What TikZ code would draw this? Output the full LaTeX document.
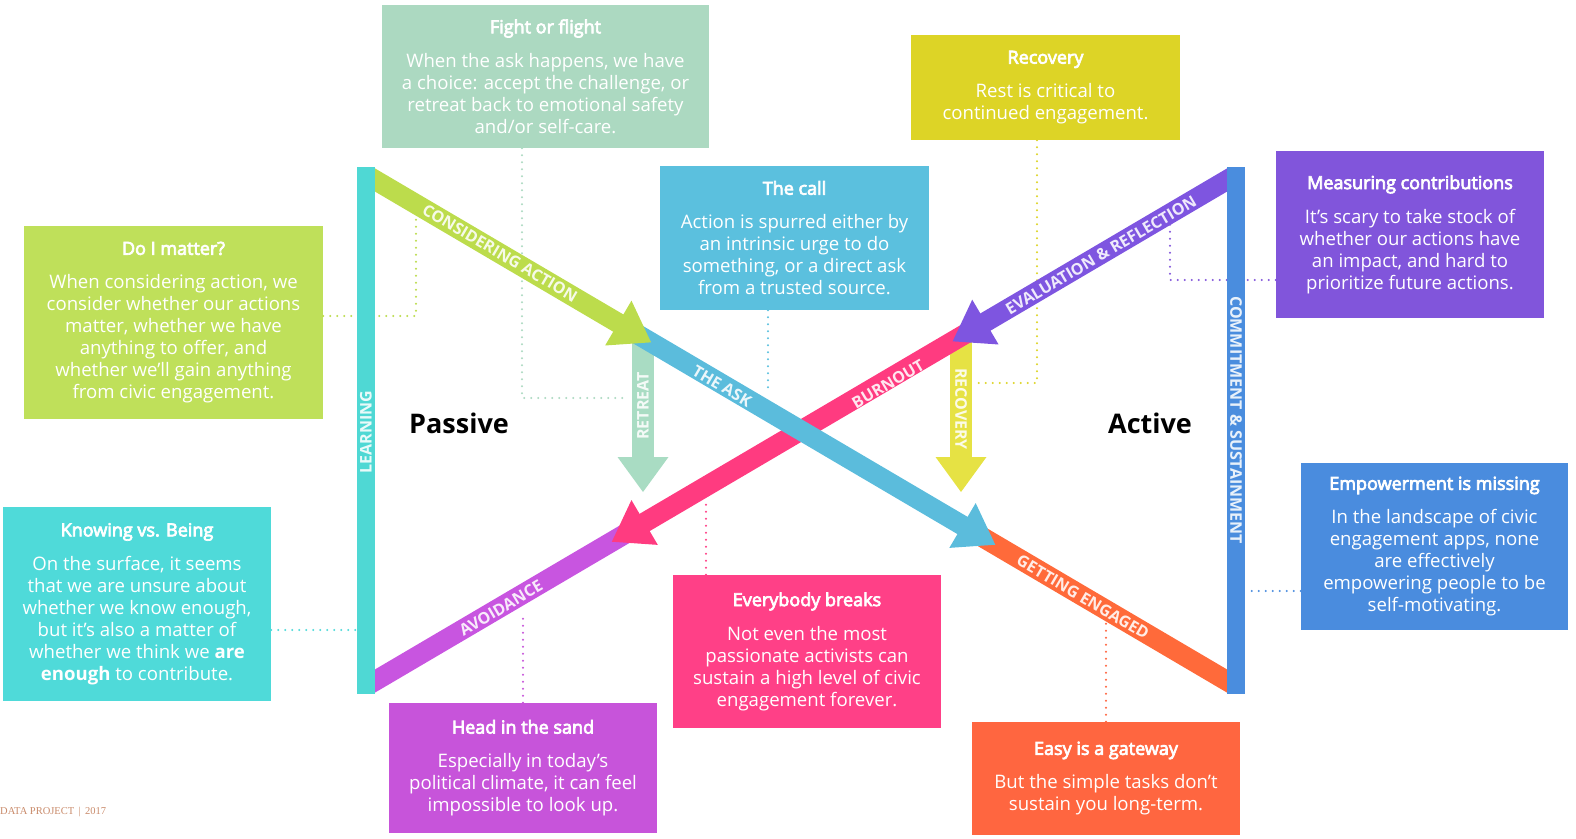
\documentclass[tikz,border=0pt]{standalone}
\usepackage{fontspec}
\setmainfont{Open Sans}
\newfontfamily\semib{Open Sans}[FakeBold=4]
\newfontfamily\footfont{Liberation Serif}
\usetikzlibrary{calc}
\definecolor{cfight}{HTML}{ACD9C1}
\definecolor{crecov}{HTML}{DDD426}
\definecolor{ccall}{HTML}{5BC0DE}
\definecolor{cmeas}{HTML}{8155DB}
\definecolor{cdoim}{HTML}{BFE05A}
\definecolor{cknow}{HTML}{4FDAD9}
\definecolor{chead}{HTML}{C754DA}
\definecolor{cevery}{HTML}{FF4087}
\definecolor{ceasy}{HTML}{FF6640}
\definecolor{cempow}{HTML}{4A8CDE}
\definecolor{clearn}{HTML}{4FD8D4}
\definecolor{ccommit}{HTML}{4A8DDE}
\definecolor{agreen}{HTML}{BCDC4C}
\definecolor{ablue}{HTML}{5BBCDC}
\definecolor{aorange}{HTML}{FF6A3A}
\definecolor{apurple}{HTML}{7E55E0}
\definecolor{apink}{HTML}{FF3B80}
\definecolor{amag}{HTML}{C855E0}
\definecolor{aretreat}{HTML}{A9DCC3}
\definecolor{arecov}{HTML}{E6E244}
\definecolor{cfoot}{HTML}{C98B6B}
\newcommand\ttl[1]{{\semib\fontsize{18}{22}\selectfont #1}\\[12pt]}
\newcommand\headtip[5]{\fill[#1] (#2) -- ($(#2)!#4!(#3)!#5!90:(#2)$) -- ($(#2)!#4!(#3)!#5!-90:(#2)$) -- cycle;}
\begin{document}
\begin{tikzpicture}[x=1pt,y=-1pt,
  box/.style={fill=#1, text=white, align=center, inner sep=0pt, font=\fontsize{18.6}{22}\selectfont},
  band/.style={draw=#1, line width=20pt},
  lbl/.style={text=white, text opacity=0.88, font=\bfseries\fontsize{16}{16}\selectfont, inner sep=0pt},
  dots/.style={draw=#1, line width=2.2pt, line cap=round, dash pattern=on 0pt off 7pt},
  big/.style={font=\bfseries\fontsize{27}{30}\selectfont, text=black, inner sep=0pt}
]
\useasboundingbox (0,0) rectangle (1576,838);

% ---------- boxes ----------
\node[box=cfight, minimum width=327pt, minimum height=143pt] (fight) at (545.5,76.5)
 {\ttl{Fight or flight}When the ask happens, we have\\a choice: accept the challenge, or\\retreat back to emotional safety\\and/or self-care.};
\node[box=crecov, minimum width=269pt, minimum height=105pt] (recov) at (1045.5,87.5)
 {\ttl{Recovery}Rest is critical to\\continued engagement.};
\node[box=ccall, minimum width=269pt, minimum height=144pt] (call) at (794.5,238)
 {\ttl{The call}Action is spurred either by\\an intrinsic urge to do\\something, or a direct ask\\from a trusted source.};
\node[box=cmeas, minimum width=268pt, minimum height=167pt] (meas) at (1410,234.5)
 {\ttl{Measuring contributions}It’s scary to take stock of\\whether our actions have\\an impact, and hard to\\prioritize future actions.};
\node[box=cdoim, minimum width=299pt, minimum height=193pt] (doim) at (173.5,322.5)
 {\ttl{Do I matter?}When considering action, we\\consider whether our actions\\matter, whether we have\\anything to offer, and\\whether we’ll gain anything\\from civic engagement.};
\node[box=cknow, minimum width=268pt, minimum height=194pt] (know) at (137,604)
 {\ttl{Knowing vs. Being}On the surface, it seems\\that we are unsure about\\whether we know enough,\\but it’s also a matter of\\whether we think we \textbf{are}\\\textbf{enough} to contribute.};
\node[box=chead, minimum width=268pt, minimum height=130pt] (head) at (523,768)
 {\ttl{Head in the sand}Especially in today’s\\political climate, it can feel\\impossible to look up.};
\node[box=cevery, minimum width=268pt, minimum height=153pt] (every) at (807,651.5)
 {\ttl{Everybody breaks}Not even the most\\passionate activists can\\sustain a high level of civic\\engagement forever.};
\node[box=ceasy, minimum width=268pt, minimum height=113pt] (easy) at (1106,778.5)
 {\ttl{Easy is a gateway}But the simple tasks don’t\\sustain you long-term.};
\node[box=cempow, minimum width=267pt, minimum height=167pt] (empow) at (1434.5,546.5)
 {\ttl{Empowerment is missing}In the landscape of civic\\engagement apps, none\\are effectively\\empowering people to be\\self-motivating.};

% ---------- dotted connectors ----------
\coordinate (d1c) at (416,316); \coordinate (d1) at (416,218);
\coordinate (d2c) at (522,398); \coordinate (d2) at (628,398);
\coordinate (d3) at (768,393);
\coordinate (d4c) at (1037,383); \coordinate (d4) at (975,383);
\coordinate (d5c) at (1170,280); \coordinate (d5) at (1170,224);
\coordinate (d6) at (1247,591);
\coordinate (d7) at (357,630);
\coordinate (d8) at (523,612);
\coordinate (d9) at (706,500);
\coordinate (d10) at (1106,620);
\draw[dots=agreen] (doim.east |- d1c) -- (d1c) -- (d1);
\draw[dots=cfight] (fight.south -| d2c) -- (d2c) -- (d2);
\draw[dots=ccall] (call.south -| d3) -- (d3);
\draw[dots=crecov] (recov.south -| d4c) -- (d4c) -- (d4);
\draw[dots=cmeas] (meas.west |- d5c) -- (d5c) -- (d5);
\draw[dots=cempow] (empow.west |- d6) -- (d6);
\draw[dots=cknow] (know.east |- d7) -- (d7);
\draw[dots=chead] (head.north -| d8) -- (d8);
\draw[dots=cevery] (every.north -| d9) -- (d9);
\draw[dots=ceasy] (easy.north -| d10) -- (d10);

% ---------- the X of arrows ----------
\coordinate (A1) at (375,180); \coordinate (B1) at (1227,681);
\coordinate (A2) at (1227,180); \coordinate (B2) at (375,681);
\coordinate (gt) at ($(A1)!0.324!(B1)$);
\coordinate (bt) at ($(A1)!0.728!(B1)$);
\coordinate (vt) at ($(A2)!0.322!(B2)$);
\coordinate (kt) at ($(A2)!0.722!(B2)$);
\coordinate (rt) at (643,492); \coordinate (rs) at (643,338);
\coordinate (ct) at (961,492); \coordinate (cs) at (961,338);
\begin{scope}
\clip (375,0) rectangle (1227,838);
\draw[band=aorange] ($(A1)!0.70!(B1)$) -- ($(A1)!1.05!(B1)$);
\draw[band=amag] ($(A2)!0.70!(B2)$) -- ($(A2)!1.05!(B2)$);
\draw[draw=aretreat, line width=22pt] (rs) -- ($(rt)!30pt!(rs)$);
\headtip{aretreat}{rt}{rs}{35pt}{25.5pt}
\draw[draw=arecov, line width=22pt] (cs) -- ($(ct)!30pt!(cs)$);
\headtip{arecov}{ct}{cs}{35pt}{25.5pt}
\draw[band=apink] ($(A2)!0.30!(B2)$) -- ($(kt)!30pt!(A2)$);
\headtip{apink}{kt}{A2}{38pt}{26pt}
\draw[band=ablue] ($(A1)!0.30!(B1)$) -- ($(bt)!30pt!(A1)$);
\headtip{ablue}{bt}{A1}{38pt}{26pt}
\draw[band=agreen] ($(A1)!-0.05!(B1)$) -- ($(gt)!30pt!(A1)$);
\headtip{agreen}{gt}{A1}{38pt}{26pt}
\draw[band=apurple] ($(A2)!-0.05!(B2)$) -- ($(vt)!30pt!(A2)$);
\headtip{apurple}{vt}{A2}{38pt}{26pt}
\end{scope}

% ---------- bars ----------
\fill[clearn] (357,167) rectangle (375,694);
\fill[ccommit] (1227,167) rectangle (1245,694);

% ---------- labels ----------
\node[lbl, rotate=-30.46] (l1) at (500,253) {CONSIDERING ACTION};
\node[lbl, rotate=-30.46] (l2) at (722,386) {THE ASK};
\node[lbl, rotate=-30.46] (l3) at (1083,597) {GETTING ENGAGED};
\node[lbl, rotate=30.46] (l4) at (1101,255) {EVALUATION \& REFLECTION};
\node[lbl, rotate=30.46] (l5) at (888,384) {BURNOUT};
\node[lbl, rotate=30.46] (l6) at (501,608) {AVOIDANCE};
\node[lbl, rotate=90] (l7) at (643,406) {RETREAT};
\node[lbl, rotate=-90] (l8) at (961,409) {RECOVERY};
\node[lbl, rotate=90] (l9) at (366,432) {LEARNING};
\node[lbl, rotate=-90] (l10) at (1236,420) {COMMITMENT \& SUSTAINMENT};

\node[big] (passive) at (459,423) {Passive};
\node[big] (active) at (1150,423) {Active};

\node[anchor=west, text=cfoot, font=\footfont\fontsize{10.5}{11}\selectfont, inner sep=0pt] (foot) at (0,812) {DATA PROJECT \,|\, 2017};
\end{tikzpicture}
\end{document}
